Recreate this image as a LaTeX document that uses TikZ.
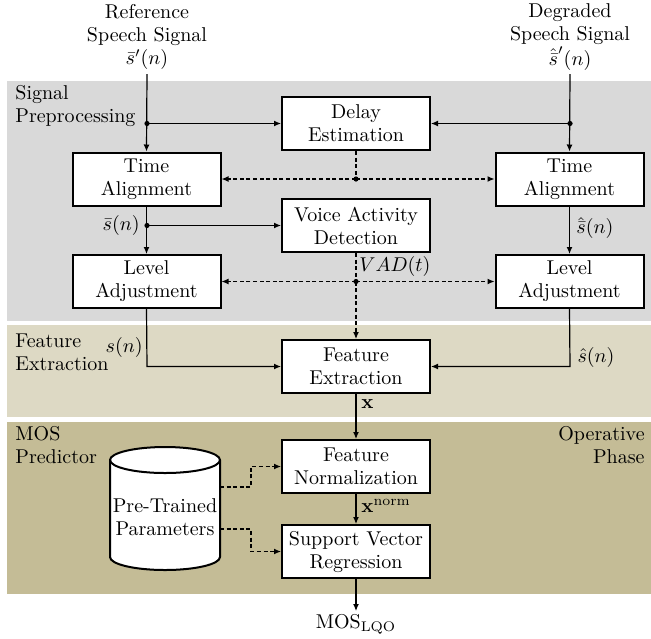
\documentclass[tikz,border=0pt]{standalone}
\usetikzlibrary{arrows.meta}
\definecolor{bandgray}{HTML}{D9D9D9}
\definecolor{bandtan}{HTML}{DDD9C4}
\definecolor{banddark}{HTML}{C4BC96}
\tikzset{
  blk/.style={draw=black, line width=1pt, fill=white, minimum width=74pt, minimum height=26.5pt, inner sep=0pt, align=center, font=\fontsize{10}{11.5}\selectfont},
  lbl/.style={inner sep=0pt, align=center, font=\fontsize{10}{11.5}\selectfont},
  conn/.style={line width=0.6pt},
  arr/.style={conn, -{Latex[length=3.5pt,width=3pt]}},
  darr/.style={arr, dash pattern=on 2pt off 1.3pt},
  dln/.style={conn, dash pattern=on 2pt off 1.3pt},
  jdot/.style={fill=black}
}
\begin{document}
\begin{tikzpicture}[x=0.5pt,y=-0.5pt]
\useasboundingbox (0,0) rectangle (651,638);
% bands
\fill[bandgray] (7,81) rectangle (651,321);
\fill[bandtan] (7,325) rectangle (651,417);
\fill[banddark] (7,422) rectangle (651,594);
% band labels
\node[lbl, align=left, anchor=north west] (lsp) at (15,85) {Signal\\Preprocessing};
\node[lbl, align=left, anchor=north west] (lfe) at (15,333) {Feature\\Extraction};
\node[lbl, align=left, anchor=north west] (lmp) at (15,426) {MOS\\Predictor};
\node[lbl, align=right, anchor=north east] (lop) at (645,426) {Operative\\Phase};
% inputs
\node[lbl] (ref) at (147,37) {Reference\\Speech Signal\\$\bar{s}'(n)$};
\node[lbl] (deg) at (570,37) {Degraded\\Speech Signal\\$\hat{\bar{s}}'(n)$};
\coordinate (refin) at (147,74);
\coordinate (degin) at (570,74);
% blocks
\node[blk] (de) at (356,123.5) {Delay\\Estimation};
\node[blk] (tal) at (146.5,179) {Time\\Alignment};
\node[blk] (tar) at (569.5,179) {Time\\Alignment};
\node[blk] (vad) at (356,225.5) {Voice Activity\\Detection};
\node[blk] (lal) at (146.5,281.5) {Level\\Adjustment};
\node[blk] (lar) at (569.5,281.5) {Level\\Adjustment};
\node[blk] (fe) at (356,366.5) {Feature\\Extraction};
\node[blk] (fn) at (356,466.5) {Feature\\Normalization};
\node[blk] (svr) at (356,551.5) {Support Vector\\Regression};
% cylinder
\filldraw[fill=white, line width=1pt] (110,460) -- (110,557) arc[start angle=180, end angle=360, x radius=27.5pt, y radius=6.5pt] -- (220,460) arc[start angle=0, end angle=180, x radius=27.5pt, y radius=6.5pt] -- cycle;
\draw[line width=1pt] (220,460) arc[start angle=0, end angle=-180, x radius=27.5pt, y radius=6.5pt];
\node[lbl] (db) at (165,517) {Pre-Trained\\Parameters};
\coordinate (dbo1) at (220,487);
\coordinate (dbo2) at (220,529);
\coordinate (dbk1) at (251,487);
\coordinate (dbk2) at (251,529);
% junctions
\coordinate (j1) at (147,123.5);
\coordinate (j2) at (570,123.5);
\coordinate (j3) at (356,179);
\coordinate (j4) at (147,225.5);
\coordinate (j5) at (356,281.5);
\coordinate (c6) at (147,366.5);
\coordinate (c7) at (570,366.5);
\coordinate (out) at (356,611);
% solid connectors
\draw[arr] (refin) -- (tal.north);
\draw[arr] (degin) -- (tar.north);
\draw[arr] (j1) -- (de.west);
\draw[arr] (j2) -- (de.east);
\draw[arr] (tal.south) -- (lal.north);
\draw[arr] (j4) -- (vad.west);
\draw[arr] (tar.south) -- (lar.north);
\draw[arr] (lal.south) -- (c6) -- (fe.west);
\draw[arr] (lar.south) -- (c7) -- (fe.east);
\draw[arr] (fe.south) -- (fn.north);
\draw[arr] (fn.south) -- (svr.north);
\draw[arr] (svr.south) -- (out);
% dashed connectors
\draw[dln] (de.south) -- (j3);
\draw[darr] (j3) -- (tal.east);
\draw[darr] (j3) -- (tar.west);
\draw[dln] (vad.south) -- (j5);
\draw[darr] (j5) -- (lal.east);
\draw[darr] (j5) -- (lar.west);
\draw[darr] (j5) -- (fe.north);
\draw[darr] (dbo1) -- (dbk1) |- (fn.west);
\draw[darr] (dbo2) -- (dbk2) |- (svr.west);
% junction dots
\foreach \j in {j1,j2,j3,j4,j5} \fill[jdot] (\j) circle (1.3pt);
% signal labels
\node[lbl, anchor=east] (lsb) at (140,225.5) {$\bar{s}(n)$};
\node[lbl, anchor=west] (lshb) at (576,228) {$\hat{\bar{s}}(n)$};
\node[lbl, anchor=west] (lvad) at (359,266) {$VAD(t)$};
\node[lbl, anchor=east] (ls) at (143,347) {$s(n)$};
\node[lbl] (lsh) at (596,357) {$\hat{s}(n)$};
\node[lbl, anchor=west] (lx) at (361,404) {$\mathbf{x}$};
\node[lbl, anchor=west] (lxn) at (361,506) {$\mathbf{x}^{\mathrm{norm}}$};
\node[lbl] (mos) at (356,625) {$\mathrm{MOS}_{\mathrm{LQO}}$};
\end{tikzpicture}
\end{document}
